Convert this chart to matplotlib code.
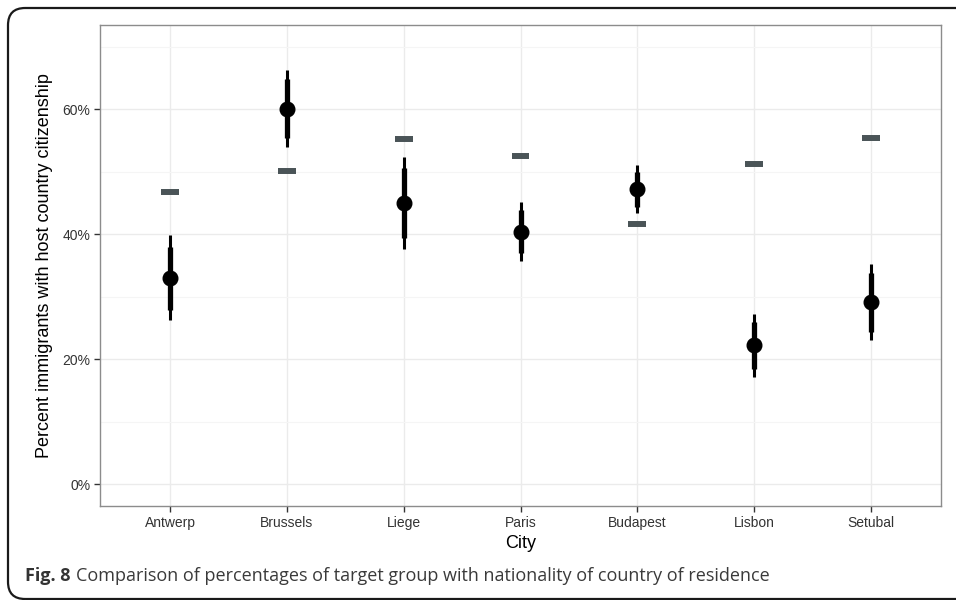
import matplotlib
matplotlib.use("Agg")
import matplotlib.pyplot as plt
from matplotlib.patches import FancyBboxPatch
from matplotlib.ticker import FuncFormatter, MultipleLocator

# data (percent)
cities = ["Antwerp", "Brussels", "Liege", "Paris", "Budapest", "Lisbon", "Setubal"]
estimate = [33.0, 60.1, 45.0, 40.4, 47.2, 22.2, 29.1]
inner_lo = [27.9, 55.4, 39.4, 37.0, 44.3, 18.5, 24.4]
inner_hi = [38.0, 64.8, 50.6, 43.9, 50.0, 25.9, 33.8]
outer_lo = [26.3, 53.9, 37.6, 35.7, 43.4, 17.2, 23.1]
outer_hi = [39.9, 66.3, 52.3, 45.1, 51.1, 27.2, 35.2]
reference = [46.7, 50.2, 55.2, 52.5, 41.6, 51.2, 55.4]

W, H = 956, 600
fig = plt.figure(figsize=(W / 100, H / 100), dpi=100)
plt.rcParams["font.family"] = ["Liberation Sans", "DejaVu Sans"]

# rounded frame around figure + caption
frame = FancyBboxPatch((8 / W, 1.0 / H), 1.2, (H - 9.0) / H,
                       boxstyle="round,pad=0,rounding_size=0.018",
                       transform=fig.transFigure, fill=False,
                       edgecolor="#1a1a1a", linewidth=1.6, mutation_aspect=W / H)
fig.patches.append(frame)

ax = fig.add_axes([100 / W, 1 - 506 / H, (941 - 100) / W, (506 - 25) / H])
x = list(range(len(cities)))

ax.vlines(x, outer_lo, outer_hi, color="black", linewidth=2.2, zorder=3)
ax.vlines(x, inner_lo, inner_hi, color="black", linewidth=3.8, zorder=3)
ax.plot(x, estimate, "o", color="black", markersize=10.5, zorder=4)
xs = [i - 0.077 for i in x]
xe = [i + 0.077 for i in x]
ax.hlines(reference, xs, xe, color="#4a5457", linewidth=4.3, zorder=3)

ax.set_xlim(-0.6, len(cities) - 0.4)
ax.set_ylim(-3.5, 73.5)
ax.set_xticks(x)
ax.set_xticklabels(cities)
ax.yaxis.set_major_locator(MultipleLocator(20))
ax.yaxis.set_minor_locator(MultipleLocator(10))
ax.yaxis.set_major_formatter(FuncFormatter(lambda v, p: f"{v:.0f}%"))

ax.grid(True, which="major", color="#ebebeb", linewidth=1.0, zorder=0)
ax.grid(True, which="minor", axis="y", color="#f5f5f5", linewidth=0.8, zorder=0)
ax.set_axisbelow(True)
for s in ax.spines.values():
    s.set_color("#8c8c8c")
    s.set_linewidth(1.0)
ax.tick_params(axis="both", which="major", length=4, width=1.0, color="#333333",
               labelsize=10, labelcolor="#333333", pad=3)
ax.tick_params(axis="y", which="minor", length=0)

ax.set_xlabel("City", fontsize=13, color="black", labelpad=4)
ax.set_ylabel("Percent immigrants with host country citizenship", fontsize=13,
              color="black", labelpad=7)

# caption
fam = ["Open Sans", "DejaVu Sans"]
t1 = fig.text(25 / W, 1 - 576 / H, "Fig. 8", fontsize=13, fontweight="bold",
              color="#333333", va="center", family=fam)
r = fig.canvas.get_renderer()
bb = t1.get_window_extent(renderer=r)
fig.text(bb.x1 / W + 5 / W, 1 - 576 / H,
         "Comparison of percentages of target group with nationality of country of residence",
         fontsize=13, color="#3a3a3a", va="center", family=fam)

fig.savefig("out.png", dpi=100)
